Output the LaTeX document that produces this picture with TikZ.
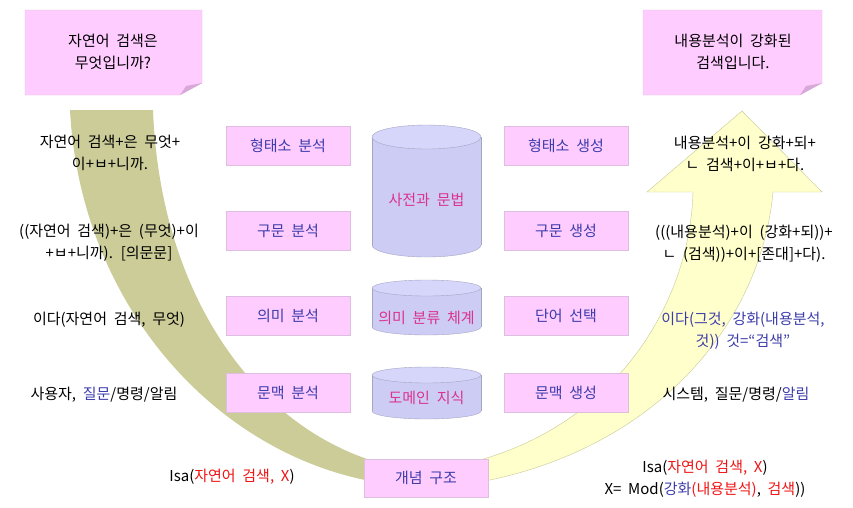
\documentclass[tikz,border=0pt]{standalone}
\usepackage{fontspec}
\setmainfont{Noto Sans CJK KR}[WordSpace=2]
\definecolor{bandolive}{RGB}{204,204,153}
\definecolor{bandyellow}{RGB}{255,255,204}
\definecolor{bandline}{RGB}{200,200,150}
\definecolor{boxpink}{RGB}{255,204,255}
\definecolor{boxline}{RGB}{222,190,222}
\definecolor{notefold}{RGB}{216,168,216}
\definecolor{drumfill}{RGB}{204,204,245}
\definecolor{drumtop}{RGB}{214,214,250}
\definecolor{drumline}{RGB}{165,165,195}
\definecolor{drumtext}{RGB}{220,50,140}
\definecolor{kblue}{RGB}{60,60,170}
\definecolor{kred}{RGB}{240,20,20}
\begin{document}
\begin{tikzpicture}[x=1pt,y=-1pt,font=\fontsize{15}{22}\selectfont]
	\tikzstyle{stage}=[draw=boxline,fill=boxpink,minimum width=124pt,minimum height=39pt,inner sep=0,text=kblue]
	\tikzstyle{gloss}=[align=center,inner sep=0]
	\tikzstyle{note}=[draw=boxline,fill=boxpink]
	\tikzstyle{drum}=[draw=drumline,fill=drumfill]
	\tikzstyle{store}=[text=drumtext,inner sep=0]
	
	\useasboundingbox (0,0) rectangle (853,507);
	
	\fill[bandolive] (70,110) -- (153,110) .. controls (160,290) and (250,420) .. (370,460) -- (370,481) .. controls (210,450) and (80,300) .. (70,110) -- cycle;
	\draw[draw=bandline,fill=bandyellow] (480,482) .. controls (650,450) and (760,330) .. (773,192) -- (822,192) -- (742,111) -- (647,192) -- (693,192) .. controls (690,300) and (620,420) .. (480,460) -- cycle;
	
	\draw[note] (25,10) -- (202,10) -- (202,83) -- (180,95) -- (25,95) -- cycle;
	\fill[notefold] (180,95) -- (202,83) -- (186,86) -- cycle;
	\node [gloss] (ask) at (113,52) {자연어 검색은\\무엇입니까?};
	
	\draw[note] (643,10) -- (822,10) -- (822,83) -- (800,95) -- (643,95) -- cycle;
	\fill[notefold] (800,95) -- (822,83) -- (806,86) -- cycle;
	\node [gloss] (answer) at (733,52) {내용분석이 강화된\\검색입니다.};
	
	\node [stage] (morphA) at (288,145.5) {형태소 분석};
	\node [stage] (syntA)  at (288,230.5) {구문 분석};
	\node [stage] (semA)   at (288,316)   {의미 분석};
	\node [stage] (ctxA)   at (288,393)   {문맥 분석};
	\node [stage] (morphG) at (566,145.5) {형태소 생성};
	\node [stage] (syntG)  at (566,230.5) {구문 생성};
	\node [stage] (lexG)   at (566,316)   {단어 선택};
	\node [stage] (ctxG)   at (566,393)   {문맥 생성};
	\node [stage,minimum height=38pt] (concept) at (426,478) {개념 구조};
	
	\draw[drum] (426.5,245) ellipse [x radius=54.5, y radius=12];
	\fill[drumfill] (372,137) rectangle (481,245);
	\draw[drumline] (372,137) -- (372,245) (481,137) -- (481,245);
	\draw[drumline,fill=drumtop] (426.5,137) ellipse [x radius=54.5, y radius=12];
	\node [store] (lexicon) at (426.5,200) {사전과 문법};
	
	\draw[drum] (426.5,327) ellipse [x radius=54.5, y radius=8];
	\fill[drumfill] (372,288) rectangle (481,327);
	\draw[drumline] (372,288) -- (372,327) (481,288) -- (481,327);
	\draw[drumline,fill=drumtop] (426.5,288) ellipse [x radius=54.5, y radius=8];
	\node [store] (taxonomy) at (426.5,318) {의미 분류 체계};
	
	\draw[drum] (426.5,411) ellipse [x radius=54.5, y radius=8];
	\fill[drumfill] (372,375) rectangle (481,411);
	\draw[drumline] (372,375) -- (372,411) (481,375) -- (481,411);
	\draw[drumline,fill=drumtop] (426.5,375) ellipse [x radius=54.5, y radius=8];
	\node [store] (domain) at (426.5,398) {도메인 지식};
	
	\node [gloss] (inMorph) at (110,152.5) {자연어 검색+은 무엇+\\이+ㅂ+니까.};
	\node [gloss] (inSynt)  at (109,243)   {((자연어 검색)+은 (무엇)+이\\+ㅂ+니까). [의문문]};
	\node [gloss] (inSem)   at (109,320)   {이다(자연어 검색, 무엇)};
	\node [gloss] (inCtx)   at (104,395)   {사용자, \textcolor{kblue}{질문}/명령/알림};
	\node [gloss] (inConc)  at (232,477)   {Isa(\textcolor{kred}{자연어 검색, X})};
	
	\node [gloss] (outMorph) at (745,153.5) {내용분석+이 강화+되+\\ㄴ 검색+이+ㅂ+다.};
	\node [gloss] (outSynt)  at (744,243.5) {(((내용분석)+이 (강화+되))+\\ㄴ (검색))+이+[존대]+다).};
	\node [gloss,text=kblue] (outLex) at (743,331) {이다(그것, 강화(내용분석,\\것)) 것=“검색”};
	\node [gloss] (outCtx)   at (736,395)   {시스템, 질문/명령/\textcolor{kblue}{알림}};
	\node [gloss] (outConc)  at (705,478.5) {Isa(\textcolor{kred}{자연어 검색, X})\\X= Mod(\textcolor{kblue}{강화}\textcolor{kred}{(내용분석)}, \textcolor{kred}{검색}))};
\end{tikzpicture}
\end{document}
